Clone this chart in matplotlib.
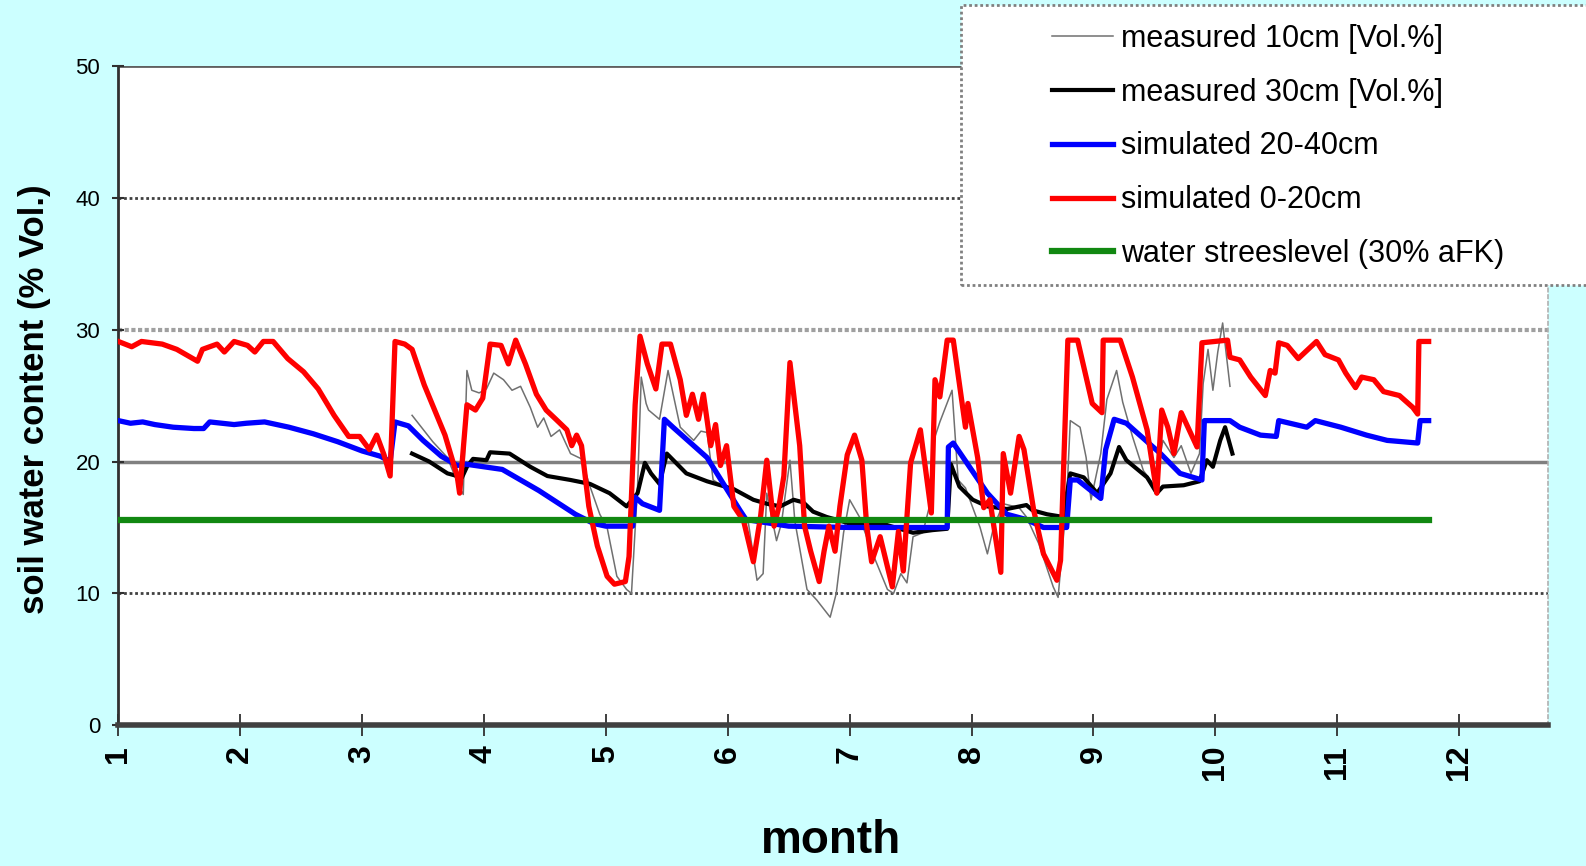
import matplotlib
matplotlib.use("Agg")
import matplotlib.pyplot as plt
from matplotlib.patches import Rectangle

# ---------------- data ----------------
month_ticks = [1, 2, 3, 4, 5, 6, 7, 8, 9, 10, 11, 12]
y_ticks = [0, 10, 20, 30, 40, 50]

series_labels = ["measured 10cm [Vol.%]", "measured 30cm [Vol.%]",
                 "simulated 20-40cm", "simulated 0-20cm",
                 "water streeslevel (30% aFK)"]

# measured 10cm (thin grey)
m10_month = [3.41, 3.58, 3.70, 3.80, 3.83, 3.86, 3.90, 3.96, 4.02, 4.08,
             4.16, 4.23, 4.30, 4.38, 4.44, 4.49, 4.55, 4.62, 4.71, 4.80,
             4.87, 4.95, 5.01, 5.09, 5.17, 5.21, 5.26, 5.29, 5.33, 5.35,
             5.44, 5.51, 5.61, 5.72, 5.78, 5.83, 5.88, 5.98, 6.10, 6.17,
             6.24, 6.29, 6.32, 6.40, 6.44, 6.51, 6.55, 6.65, 6.73, 6.84,
             6.89, 6.95, 7.00, 7.08, 7.19, 7.31, 7.36, 7.42, 7.47, 7.52,
             7.60, 7.66, 7.69, 7.74, 7.84, 7.89, 7.95, 8.07, 8.13, 8.18,
             8.26, 8.39, 8.45, 8.55, 8.67, 8.71, 8.78, 8.81, 8.89, 8.94,
             8.98, 9.06, 9.11, 9.19, 9.24, 9.32, 9.41, 9.50, 9.57, 9.66,
             9.72, 9.80, 9.87, 9.90, 9.94, 9.98, 10.02, 10.06, 10.12]
m10_val = [23.5, 21.5, 20.3, 18.0, 17.5, 26.9, 25.4, 25.2, 25.5, 26.7,
           26.2, 25.4, 25.7, 24.1, 22.6, 23.3, 21.9, 22.4, 20.6, 20.2,
           18.1, 16.0, 15.0, 11.3, 10.3, 10.0, 18.1, 26.4, 24.4, 23.9,
           23.2, 26.9, 22.6, 21.6, 22.3, 22.2, 18.6, 18.0, 16.0, 15.3,
           11.0, 11.5, 17.6, 14.0, 15.3, 20.1, 15.5, 10.3, 9.5, 8.2,
           10.0, 14.6, 17.1, 15.8, 13.0, 10.3, 10.0, 11.5, 10.8, 14.3,
           14.6, 16.8, 21.6, 23.0, 25.4, 18.6, 18.0, 15.0, 13.0, 15.0,
           16.8, 16.5, 15.8, 13.8, 10.5, 9.7, 17.1, 23.1, 22.6, 20.3,
           17.1, 20.6, 24.7, 26.9, 24.5, 21.9, 19.3, 18.2, 21.6, 20.3,
           21.2, 19.1, 20.6, 25.9, 28.5, 25.4, 28.3, 30.5, 25.7]

# measured 30cm (black)
m30_month = [3.41, 3.55, 3.70, 3.82, 3.86, 3.91, 4.02, 4.05, 4.21, 4.38,
             4.52, 4.71, 4.87, 5.03, 5.17, 5.26, 5.32, 5.37, 5.44, 5.50,
             5.66, 5.83, 6.05, 6.21, 6.32, 6.43, 6.54, 6.62, 6.70, 6.81,
             7.00, 7.30, 7.52, 7.68, 7.80, 7.83, 7.90, 8.01, 8.13, 8.29,
             8.45, 8.50, 8.62, 8.75, 8.81, 8.92, 9.03, 9.14, 9.21, 9.27,
             9.44, 9.52, 9.57, 9.74, 9.87, 9.93, 9.98, 10.04, 10.08, 10.14]
m30_val = [20.6, 20.0, 19.1, 18.8, 19.6, 20.2, 20.1, 20.7, 20.6, 19.6,
           18.9, 18.6, 18.3, 17.6, 16.6, 17.6, 19.9, 19.1, 18.3, 20.6,
           19.1, 18.5, 17.9, 17.1, 16.8, 16.6, 17.1, 16.9, 16.2, 15.8,
           15.3, 15.2, 14.6, 14.8, 14.9, 19.8, 18.1, 17.1, 16.6, 16.4,
           16.7, 16.3, 16.0, 15.8, 19.1, 18.8, 17.6, 19.1, 21.1, 20.1,
           18.8, 17.6, 18.1, 18.2, 18.5, 20.1, 19.6, 21.6, 22.6, 20.6]

# simulated 20-40cm (blue)
s2040_month = [1.00, 1.10, 1.20, 1.30, 1.45, 1.62, 1.70, 1.75, 1.85, 1.95,
               2.05, 2.20, 2.40, 2.60, 2.80, 3.00, 3.15, 3.23, 3.27, 3.38,
               3.50, 3.65, 3.78, 3.85, 4.00, 4.15, 4.30, 4.45, 4.60, 4.75,
               4.90, 5.00, 5.22, 5.24, 5.30, 5.44, 5.48, 5.55, 5.83, 6.10,
               6.15, 6.50, 7.00, 7.50, 7.80, 7.81, 7.85, 8.13, 8.21, 8.29,
               8.45, 8.59, 8.78, 8.81, 8.87, 9.06, 9.10, 9.17, 9.27, 9.55,
               9.71, 9.89, 9.91, 10.12, 10.20, 10.37, 10.50, 10.52, 10.75, 10.82,
               11.03, 11.24, 11.41, 11.66, 11.68, 11.75]
s2040_val = [23.1, 22.9, 23.0, 22.8, 22.6, 22.5, 22.5, 23.0, 22.9, 22.8,
             22.9, 23.0, 22.6, 22.1, 21.5, 20.8, 20.4, 20.0, 23.0, 22.7,
             21.6, 20.4, 19.7, 19.8, 19.6, 19.4, 18.6, 17.8, 16.9, 16.0,
             15.3, 15.1, 15.1, 17.3, 16.8, 16.3, 23.2, 22.6, 20.3, 16.3,
             15.6, 15.1, 15.0, 15.0, 15.0, 21.1, 21.4, 17.6, 16.8, 16.0,
             15.6, 15.0, 15.0, 18.6, 18.6, 17.2, 20.9, 23.2, 22.9, 20.6,
             19.1, 18.6, 23.1, 23.1, 22.6, 22.0, 21.9, 23.1, 22.6, 23.1,
             22.6, 22.0, 21.6, 21.4, 23.1, 23.1]

# simulated 0-20cm (red)
s020_month = [1.00, 1.11, 1.19, 1.36, 1.48, 1.65, 1.69, 1.81, 1.87, 1.95,
              2.06, 2.12, 2.19, 2.27, 2.39, 2.52, 2.64, 2.77, 2.89, 2.98,
              3.06, 3.12, 3.18, 3.23, 3.27, 3.35, 3.41, 3.51, 3.68, 3.78,
              3.80, 3.86, 3.93, 3.99, 4.05, 4.14, 4.20, 4.26, 4.34, 4.43,
              4.51, 4.59, 4.68, 4.72, 4.76, 4.80, 4.86, 4.93, 5.01, 5.07,
              5.16, 5.19, 5.24, 5.28, 5.34, 5.41, 5.46, 5.53, 5.61, 5.66,
              5.71, 5.76, 5.80, 5.86, 5.90, 5.94, 5.99, 6.05, 6.13, 6.21,
              6.27, 6.32, 6.38, 6.42, 6.46, 6.51, 6.59, 6.63, 6.68, 6.75,
              6.79, 6.83, 6.88, 6.92, 6.98, 7.04, 7.10, 7.14, 7.18, 7.25,
              7.31, 7.35, 7.40, 7.44, 7.50, 7.58, 7.67, 7.70, 7.74, 7.80,
              7.85, 7.90, 7.95, 7.97, 8.05, 8.10, 8.15, 8.24, 8.26, 8.32,
              8.39, 8.43, 8.51, 8.59, 8.70, 8.73, 8.79, 8.87, 8.99, 9.07,
              9.08, 9.22, 9.32, 9.44, 9.52, 9.56, 9.61, 9.66, 9.72, 9.76,
              9.85, 9.89, 10.10, 10.12, 10.20, 10.29, 10.41, 10.45, 10.49, 10.52,
              10.59, 10.68, 10.83, 10.90, 11.01, 11.07, 11.15, 11.20, 11.30, 11.38,
              11.51, 11.62, 11.66, 11.67, 11.75]
s020_val = [29.1, 28.7, 29.1, 28.9, 28.5, 27.6, 28.5, 28.9, 28.3, 29.1,
            28.8, 28.3, 29.1, 29.1, 27.8, 26.8, 25.5, 23.5, 21.9, 21.9,
            20.9, 22.0, 20.5, 18.9, 29.1, 28.9, 28.5, 25.8, 22.0, 18.9,
            17.6, 24.3, 23.9, 24.8, 28.9, 28.8, 27.4, 29.2, 27.4, 25.1,
            23.9, 23.2, 22.4, 21.2, 22.0, 21.2, 16.6, 13.6, 11.3, 10.7,
            10.9, 12.8, 24.3, 29.5, 27.4, 25.5, 28.9, 28.9, 26.2, 23.5,
            25.1, 23.2, 25.1, 21.2, 22.8, 19.7, 21.2, 16.6, 15.5, 12.4,
            15.9, 20.1, 15.1, 16.6, 18.9, 27.5, 21.2, 15.1, 13.2, 10.9,
            13.2, 15.1, 13.2, 16.6, 20.5, 22.0, 20.1, 15.1, 12.4, 14.3,
            12.0, 10.5, 14.7, 11.7, 19.9, 22.4, 16.1, 26.2, 24.9, 29.2,
            29.2, 25.9, 22.6, 24.4, 20.3, 16.5, 17.1, 11.6, 20.6, 17.6,
            21.9, 20.9, 16.3, 13.0, 11.0, 12.5, 29.2, 29.2, 24.4, 23.7,
            29.2, 29.2, 26.4, 22.4, 17.6, 23.9, 22.6, 20.6, 23.7, 22.9,
            21.1, 29.0, 29.2, 27.9, 27.7, 26.4, 25.0, 26.9, 26.7, 29.0,
            28.8, 27.8, 29.1, 28.1, 27.7, 26.7, 25.6, 26.4, 26.2, 25.3,
            25.0, 24.1, 23.6, 29.1, 29.1]

# water stress level (green)
stress_month = [1.0, 11.75]
stress_val = [15.6, 15.6]

# ---------------- figure ----------------
BG = "#ccffff"
FONT = ["Liberation Sans", "DejaVu Sans"]
fig = plt.figure(figsize=(15.86, 8.66), dpi=100, facecolor=BG)
ax = fig.add_axes([0.0746, 0.1624, 0.9758 - 0.0746, 0.9241 - 0.1624])
ax.set_facecolor("white")

ax.set_xlim(1, 12.726)
ax.set_ylim(0, 50)

# grid lines
grid_styles = {10: dict(color="#404040", lw=2.0, ls=(0, (1, 1))),
               20: dict(color="#808080", lw=2.5, ls="-"),
               30: dict(color="#a0a0a0", lw=3.0, ls=(0, (1, 0.6))),
               40: dict(color="#404040", lw=2.0, ls=(0, (1, 1))),
               50: dict(color="#606060", lw=2.0, ls="-")}
for yv in y_ticks[1:]:
    ax.axhline(yv, zorder=1, **grid_styles[yv])

l10, = ax.plot(m10_month, m10_val, color="#707070", lw=1.1, zorder=2)
l30, = ax.plot(m30_month, m30_val, color="black", lw=3.0, zorder=3)
lb, = ax.plot(s2040_month, s2040_val, color="#0000ff", lw=3.8, zorder=4)
lr, = ax.plot(s020_month, s020_val, color="#ff0000", lw=3.8, zorder=5)
lg, = ax.plot(stress_month, stress_val, color="#118811", lw=4.5, zorder=6)

# spines
ax.spines["top"].set_visible(False)
ax.spines["right"].set_color("#b0b0b0")
ax.spines["right"].set_linestyle((0, (2, 2)))
ax.spines["right"].set_linewidth(1.2)
ax.spines["left"].set_color("#303030")
ax.spines["left"].set_linewidth(2.0)
ax.spines["bottom"].set_color("#404040")
ax.spines["bottom"].set_linewidth(4.0)

ax.set_yticks(y_ticks)
ax.set_yticklabels([str(v) for v in y_ticks], fontsize=16, family=FONT)
ax.tick_params(axis="y", direction="inout", length=8, width=1.5,
               color="#303030", pad=9)

ax.set_xticks(month_ticks)
ax.set_xticklabels([str(v) for v in month_ticks], rotation=90, fontsize=23,
                   fontweight="bold", family=FONT)
ax.tick_params(axis="x", direction="inout", length=16, width=1.3,
               color="#303030", pad=6)

fig.text(0.022, 0.5386, "soil water content (% Vol.)", rotation=90,
         ha="center", va="center", fontsize=25, fontweight="bold",
         family=FONT)
fig.text(0.524, 0.029, "month", ha="center", va="center", fontsize=33,
         fontweight="bold", family=FONT)

# legend box
fig.patches.append(Rectangle((0.606, 0.6706), 0.5, 0.3234,
                             transform=fig.transFigure, facecolor="white",
                             edgecolor="#808080", lw=2.0,
                             linestyle=(0, (1, 1)), zorder=10))
leg = fig.legend([l10, l30, lb, lr, lg], series_labels,
                 loc="upper left", bbox_to_anchor=(0.663, 0.9725),
                 frameon=False, handlelength=2.0,
                 handletextpad=0.26, labelspacing=0.78, borderpad=0,
                 borderaxespad=0, prop=dict(family="Liberation Sans", size=22))
leg.set_zorder(11)

fig.savefig("out.png", dpi=100, facecolor=BG)
